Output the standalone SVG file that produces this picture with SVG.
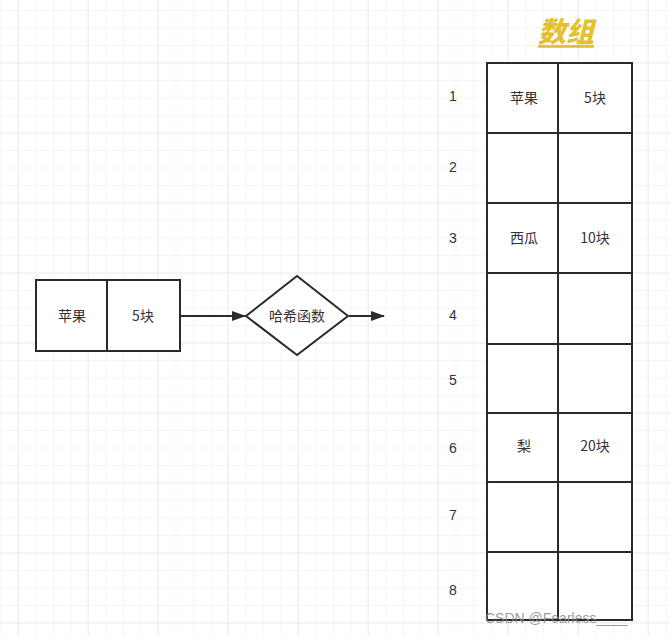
<svg xmlns="http://www.w3.org/2000/svg" width="670" height="636" viewBox="0 0 670 636">
<defs>
<pattern id="minor" x="0.5" y="10" width="17.5" height="17.5" patternUnits="userSpaceOnUse">
<path d="M0 0V17.5M0 0H17.5" fill="none" stroke="#ececec" stroke-width="1"/>
</pattern>
<pattern id="major" x="17.5" y="62.5" width="70" height="70" patternUnits="userSpaceOnUse">
<path d="M0 0V70M0 0H70" fill="none" stroke="#e2e2e2" stroke-width="1"/>
</pattern>
<marker id="arr" markerWidth="14" markerHeight="10" refX="13" refY="5" orient="auto" markerUnits="userSpaceOnUse">
<path d="M0 0L14 5L0 10Z" fill="#2b2b2b"/>
</marker>
</defs>
<style>
.box{fill:#fff;stroke:#262b2f;stroke-width:2}
.ln{stroke:#262b2f;stroke-width:2;fill:none}
.t{font-family:"Noto Sans CJK SC","Liberation Sans",sans-serif;font-size:14px;fill:#333;text-anchor:middle;dominant-baseline:central}
.n{font-family:"Liberation Sans",sans-serif;font-size:14px;fill:#333;text-anchor:middle;dominant-baseline:central}
.c{stroke:#2b2b2b;stroke-width:2;fill:none}
</style>
<rect width="670" height="636" fill="#fff"/>
<rect width="670" height="636" fill="url(#minor)"/>
<rect width="670" height="636" fill="url(#major)"/>
<g id="title">
<text x="566" y="30" font-family="Noto Sans CJK SC,sans-serif" font-size="28" font-weight="900" font-style="italic" fill="#e3c12f" text-anchor="middle" dominant-baseline="central" text-decoration="underline">数组</text>
</g>
<g id="input">
<rect class="box" x="36" y="280" width="144" height="71"/>
<line class="ln" x1="107" y1="280" x2="107" y2="351"/>
<text class="t" x="72" y="315">苹果</text>
<text class="t" x="143" y="315">5块</text>
</g>
<g id="hash">
<polygon class="box" points="297,276 348,316 297,355 246,316"/>
<text class="t" x="297" y="315">哈希函数</text>
</g>
<g id="connectors">
<line class="c" x1="181" y1="316" x2="245" y2="316" marker-end="url(#arr)"/>
<line class="c" x1="349" y1="316" x2="384" y2="316" marker-end="url(#arr)"/>
</g>
<g id="array">
<rect class="box" x="487" y="63" width="145" height="557"/>
<line class="ln" x1="558" y1="63" x2="558" y2="620"/>
<line class="ln" x1="487" y1="133" x2="632" y2="133"/>
<line class="ln" x1="487" y1="203" x2="632" y2="203"/>
<line class="ln" x1="487" y1="273" x2="632" y2="273"/>
<line class="ln" x1="487" y1="344" x2="632" y2="344"/>
<line class="ln" x1="487" y1="413" x2="632" y2="413"/>
<line class="ln" x1="487" y1="482" x2="632" y2="482"/>
<line class="ln" x1="487" y1="552" x2="632" y2="552"/>
<text class="t" x="524" y="97">苹果</text>
<text class="t" x="595" y="97">5块</text>
<text class="t" x="524" y="237">西瓜</text>
<text class="t" x="595" y="237">10块</text>
<text class="t" x="524" y="445">梨</text>
<text class="t" x="595" y="445">20块</text>
</g>
<g id="indices">
<text class="n" x="453" y="96">1</text>
<text class="n" x="453" y="167">2</text>
<text class="n" x="453" y="238">3</text>
<text class="n" x="453" y="315">4</text>
<text class="n" x="453" y="380">5</text>
<text class="n" x="453" y="448">6</text>
<text class="n" x="453" y="515">7</text>
<text class="n" x="453" y="590">8</text>
</g>
<text x="485" y="623" font-family="Liberation Sans,sans-serif" font-size="14" fill="#888" fill-opacity="0.85">CSDN @Fearless____</text>
</svg>
